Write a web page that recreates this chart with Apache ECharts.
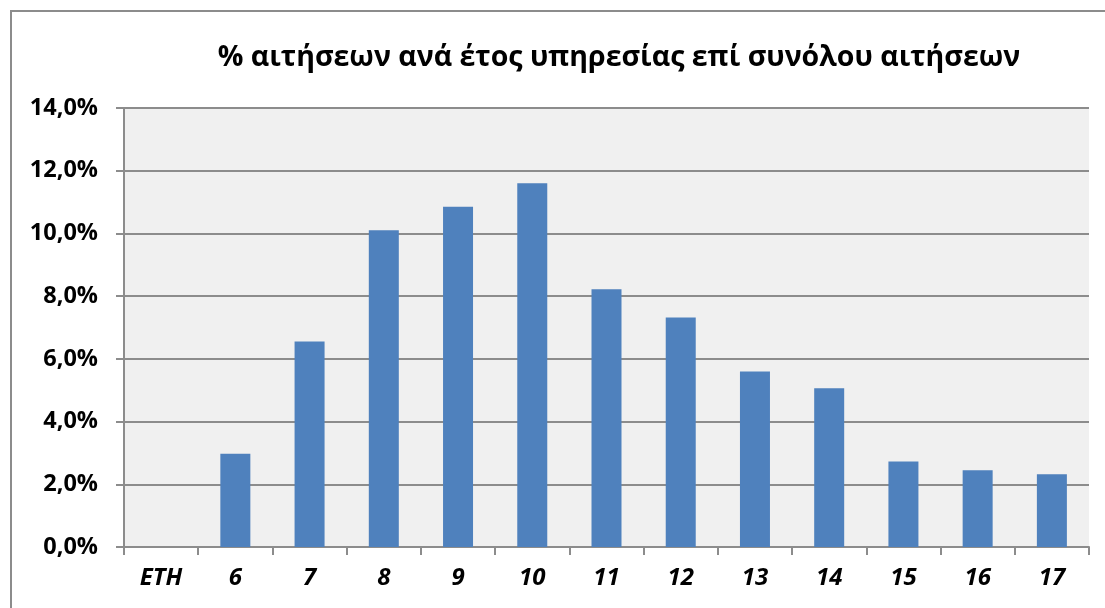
<!DOCTYPE html>
<html>
<head>
<meta charset="utf-8">
<script src="https://cdn.jsdelivr.net/npm/echarts@6/dist/echarts.min.js"></script>
<style>
  html, body { margin: 0; padding: 0; background: #fff; }
  #frame { position: absolute; left: 10px; top: 10px; width: 1200px; height: 700px; border: 2px solid #8c8c8c; box-sizing: border-box; }
  #chart { position: absolute; left: 0; top: 0; width: 1105px; height: 608px; }
</style>
</head>
<body>
<div id="frame"></div>
<div id="chart"></div>
<script>
// κατηγορίες (έτη υπηρεσίας) και ποσοστά αιτήσεων
const categories = ['ETH', '6', '7', '8', '9', '10', '11', '12', '13', '14', '15', '16', '17'];
const percentValues = [null, 2.97, 6.55, 10.1, 10.85, 11.6, 8.22, 7.32, 5.6, 5.06, 2.73, 2.45, 2.32];
const yTicks = [0, 2, 4, 6, 8, 10, 12, 14];

const chart = echarts.init(document.getElementById('chart'), null, {renderer: 'canvas'});
const fontFam = '"Open Sans", "Noto Sans", sans-serif';

const option = {
    animation: false,
    backgroundColor: 'transparent',
    title: {
        text: '% αιτήσεων ανά έτος υπηρεσίας επί συνόλου αιτήσεων',
        left: 614,
        textAlign: 'center',
        top: 38,
        textStyle: {
            fontFamily: fontFam,
            fontSize: 28.5,
            fontWeight: 'bold',
            color: '#000'
        }
    },
    grid: {
        left: 124,
        right: 16,
        top: 108,
        bottom: 61,
        show: true,
        backgroundColor: '#f0f0f0',
        borderWidth: 0
    },
    xAxis: {
        type: 'category',
        data: categories,
        boundaryGap: true,
        axisLine: {show: true, lineStyle: {color: '#8c8c8c', width: 2}},
        axisTick: {show: true, alignWithLabel: false, length: 8, lineStyle: {color: '#8c8c8c', width: 2}},
        axisLabel: {
            margin: 19,
            fontFamily: fontFam,
            fontSize: 24,
            fontWeight: 'bold',
            fontStyle: 'italic',
            color: '#000'
        }
    },
    yAxis: {
        type: 'value',
        min: yTicks[0],
        max: yTicks[yTicks.length - 1],
        interval: 2,
        axisLine: {show: true, lineStyle: {color: '#8c8c8c', width: 2}},
        axisTick: {show: true, length: 8, lineStyle: {color: '#8c8c8c', width: 2}},
        splitLine: {show: true, lineStyle: {color: '#8c8c8c', width: 2}},
        axisLabel: {
            margin: 26,
            fontFamily: fontFam,
            fontSize: 23.5,
            fontWeight: 'bold',
            color: '#000',
            formatter: v => v.toFixed(1).replace('.', ',') + '%'
        }
    },
    series: [{
        type: 'bar',
        data: percentValues,
        barWidth: 30,
        itemStyle: {color: '#4f81bd'}
    }]
};
chart.setOption(option);
</script>
</body>
</html>
